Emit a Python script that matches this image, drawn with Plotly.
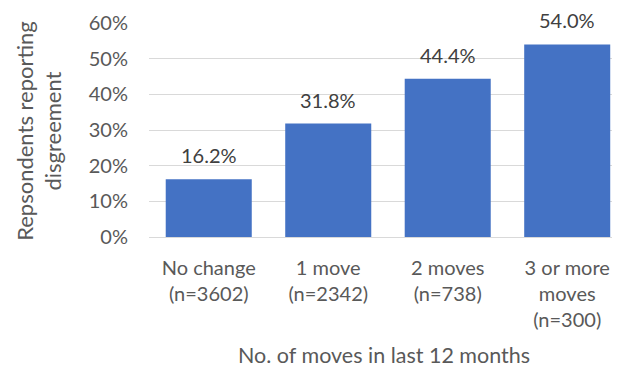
import plotly.graph_objects as go

categories = ["No change<br>(n=3602)", "1 move<br>(n=2342)", "2 moves<br>(n=738)", "3 or more<br>moves<br>(n=300)"]
values = [16.2, 31.8, 44.4, 54.0]
y_ticks = [0, 10, 20, 30, 40, 50, 60]
y_tick_labels = ["0%", "10%", "20%", "30%", "40%", "50%", "60%"]
x_title = "No. of moves in last 12 months"
y_title = "Repsondents reporting<br>disgreement"

FONT = "Lato"
GREY = "#595959"
xs = list(range(len(categories)))
fig = go.Figure(go.Bar(
    x=xs,
    y=values,
    marker=dict(color="#4472C4", line=dict(width=0)),
))

label_annots = [
    dict(x=x, y=v, xref="x", yref="y", text=f"{v:.1f}%", showarrow=False,
         xanchor="center", yanchor="middle", yshift=24,
         font=dict(family=FONT, size=20, color="#404040"))
    for x, v in zip(xs, values)
]

fig.update_layout(
    width=612, height=359,
    margin=dict(l=141, r=2, t=15, b=130),
    paper_bgcolor="white", plot_bgcolor="white",
    bargap=0.28,
    showlegend=False,
    font=dict(family=FONT, size=20, color=GREY),
    xaxis=dict(
        tickmode="array", tickvals=xs, ticktext=categories,
        range=[-0.5, 3.425], showgrid=False, showline=False, zeroline=False,
        tickfont=dict(family=FONT, size=20, color=GREY),
        ticklabelstandoff=17,
        automargin=False,
    ),
    yaxis=dict(
        range=[0, 60], tickvals=y_ticks, ticktext=y_tick_labels,
        showgrid=True, gridcolor="#D9D9D9", gridwidth=1.3,
        zeroline=True, zerolinecolor="#D9D9D9", zerolinewidth=1.3,
        showline=False, ticklabelstandoff=20,
        tickfont=dict(family=FONT, size=20, color=GREY),
        automargin=False,
    ),
    annotations=label_annots + [
        dict(text=x_title, xref="paper", yref="paper", x=0.5, y=-0.551,
             xanchor="center", yanchor="middle", showarrow=False,
             font=dict(family=FONT, size=21.5, color=GREY)),
        dict(text=y_title, xref="paper", yref="paper", x=-0.235, y=0.495,
             xanchor="center", yanchor="middle", showarrow=False, textangle=-90,
             font=dict(family=FONT, size=22, color=GREY)),
    ],
)

fig.write_html("out.html")
